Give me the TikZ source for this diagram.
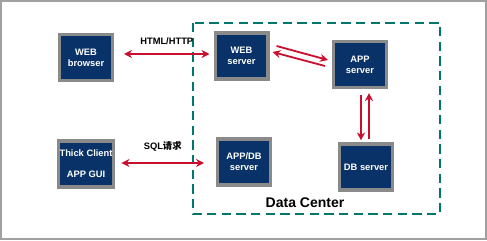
\documentclass[tikz,border=0pt]{standalone}
\usepackage{fontspec}
\setmainfont{Liberation Sans}
\newfontfamily\cjk{Noto Sans CJK SC}
\usepackage{tikz}
\usetikzlibrary{arrows.meta,positioning,calc}
\usepackage{xcolor}
\definecolor{srvblue}{RGB}{8,50,104}
\definecolor{srvgrey}{RGB}{138,138,138}
\definecolor{linkred}{RGB}{200,16,46}
\definecolor{dcteal}{RGB}{0,118,108}
\definecolor{framegrey}{RGB}{160,160,160}

\begin{document}
\begin{tikzpicture}[x=0.75pt, y=-0.75pt,
  every node/.style={font=\fontsize{7}{8.25}\selectfont\bfseries},
  srvbox/.style={draw=srvgrey, line width=2.5pt, fill=srvblue, text=white, align=center,
    minimum width=39.5pt, minimum height=34.3pt, inner sep=1pt},
  link/.style={draw=linkred, line width=1.35pt, -{Stealth[length=6pt, width=6pt]}},
  duplex/.style={link, {Stealth[length=6pt, width=6pt]}-{Stealth[length=6pt, width=6pt]}}]
\useasboundingbox (0,0) rectangle (487,240);
\draw[framegrey, line width=1.5pt] (1,1) rectangle (485.5,238.5);
% Data center frame
\draw[dcteal, line width=1.5pt, dash pattern=on 7pt off 4pt] (192.7,23) rectangle (440,214);
\node[font=\fontsize{10.5}{12}\selectfont\bfseries] (dc) at (305,203) {Data Center};
% Servers
\node[srvbox] (browser) at (86,57.5)   {WEB\\browser};
\node[srvbox] (websrv)  at (241.5,56)  {WEB\\server};
\node[srvbox] (appsrv)  at (360,64.5)  {APP\\server};
\node[srvbox] (thick)   at (86,164)    {Thick Client\\[7.5pt]APP GUI};
\node[srvbox] (appdb)   at (244,162)   {APP/DB\\server};
\node[srvbox] (dbsrv)   at (366,167)   {DB server};
% Links
\draw[duplex] ($(browser.east)+(10,-3.5)$) -- ($(websrv.west)+(-4,-2)$)
  node[midway, above=3pt] (http) {HTML/HTTP};
\draw[duplex] ($(thick.east)+(6,-1)$) -- ($(appdb.west)+(-12,1)$)
  node[midway, above=5pt] (sql) {SQL{\cjk 请求}};
\draw[link] ($(websrv.east)+(7,-10)$) -- ($(appsrv.west)+(-4,-4.5)$);
\draw[link] ($(appsrv.west)+(-7,1.5)$) -- ($(websrv.east)+(3,-4)$);
\draw[link] ($(appsrv.south)+(1,6)$) -- ($(dbsrv.north)+(-5,-2)$);
\draw[link] ($(dbsrv.north)+(3,-3)$) -- ($(appsrv.south)+(9,4)$);
\end{tikzpicture}
\end{document}
